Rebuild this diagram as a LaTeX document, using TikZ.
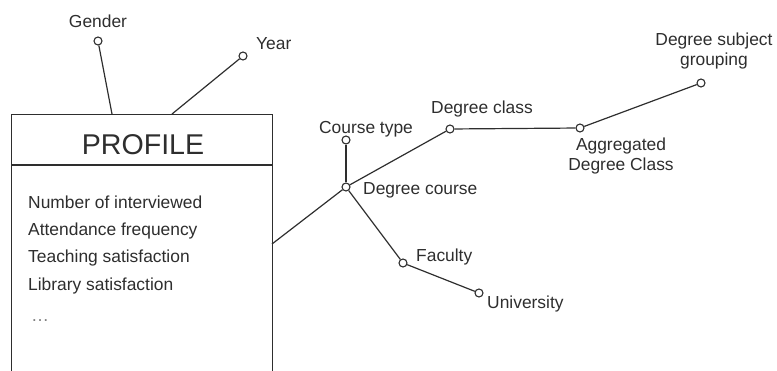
\documentclass[tikz,border=0pt]{standalone}
\usepackage{fontspec}
\setmainfont{Liberation Sans}
\definecolor{ink}{HTML}{2E2E2E}
\begin{document}
\begin{tikzpicture}[x=1pt,y=-1pt,
  link/.style={draw=ink,line width=1.2pt},
  attr/.style={circle,draw=ink,fill=white,line width=1.1pt,minimum size=8pt,inner sep=0pt},
  lbl/.style={text=ink,font=\fontsize{17.4}{20.5}\selectfont,inner sep=0pt,text height=12.5pt,text depth=0pt},
  lbl2/.style={text=ink,font=\fontsize{17.4}{20.5}\selectfont,inner sep=0pt,align=center},
  item/.style={lbl,anchor=west},
  table/.style={draw=ink,line width=1.2pt,fill=white}]
\clip (0,0) rectangle (777,371);
\useasboundingbox (0,0) rectangle (777,371);

% profile table (runs past the lower edge)
\node[table,rectangle,anchor=north west,minimum width=261pt,minimum height=280pt,inner sep=0pt] (profile) at (11,114) {};
\draw[link] (11,165) -- (272,165);
\node[text=ink,font=\fontsize{28.6}{32}\selectfont,inner sep=0pt,text height=20.5pt,text depth=0pt] (title) at (143,144) {PROFILE};
\node[item] (i1) at (28,202) {Number of interviewed};
\node[item] (i2) at (28,229) {Attendance frequency};
\node[item] (i3) at (28,256) {Teaching satisfaction};
\node[item] (i4) at (28,284) {Library satisfaction};
\node[item] (i5) at (31,315) {\textcolor{gray}{\fontsize{18}{20}\selectfont\dots}};

% attachment points on the table edges
\coordinate (pg) at (112,114);
\coordinate (py) at (172,114);
\coordinate (pr) at (272,244);

% attributes
\node[attr] (gender) at (98,41) {};
\node[attr] (year) at (243,56) {};
\node[attr] (dcourse) at (346,187) {};
\node[attr] (ctype) at (346,140) {};
\node[attr] (dclass) at (450,129) {};
\node[attr] (agg) at (580,128) {};
\node[attr] (dsg) at (701,83) {};
\node[attr] (fac) at (403,263) {};
\node[attr] (uni) at (479,293) {};

% connectors
\draw[link] (gender) -- (pg);
\draw[link] (year) -- (py);
\draw[link] (pr) -- (dcourse);
\draw[link] (dcourse) -- (ctype);
\draw[link] (dcourse) -- (dclass);
\draw[link] (dclass) -- (agg);
\draw[link] (agg) -- (dsg);
\draw[link] (dcourse) -- (fac);
\draw[link] (fac) -- (uni);

% labels
\node[lbl] (tgender) at (98,21) {Gender};
\node[lbl,anchor=west] (tyear) at (256,43) {Year};
\node[lbl] (tctype) at (366,127) {Course type};
\node[lbl,anchor=west] (tdcourse) at (363,188) {Degree course};
\node[lbl] (tdclass) at (482,107) {Degree class};
\node[lbl2] (tagg) at (621,156) {Aggregated\\Degree Class};
\node[lbl2] (tdsg) at (714,51) {Degree subject\\grouping};
\node[lbl,anchor=west] (tfac) at (416,255) {Faculty};
\node[lbl,anchor=west] (tuni) at (487,302) {University};
\end{tikzpicture}
\end{document}
